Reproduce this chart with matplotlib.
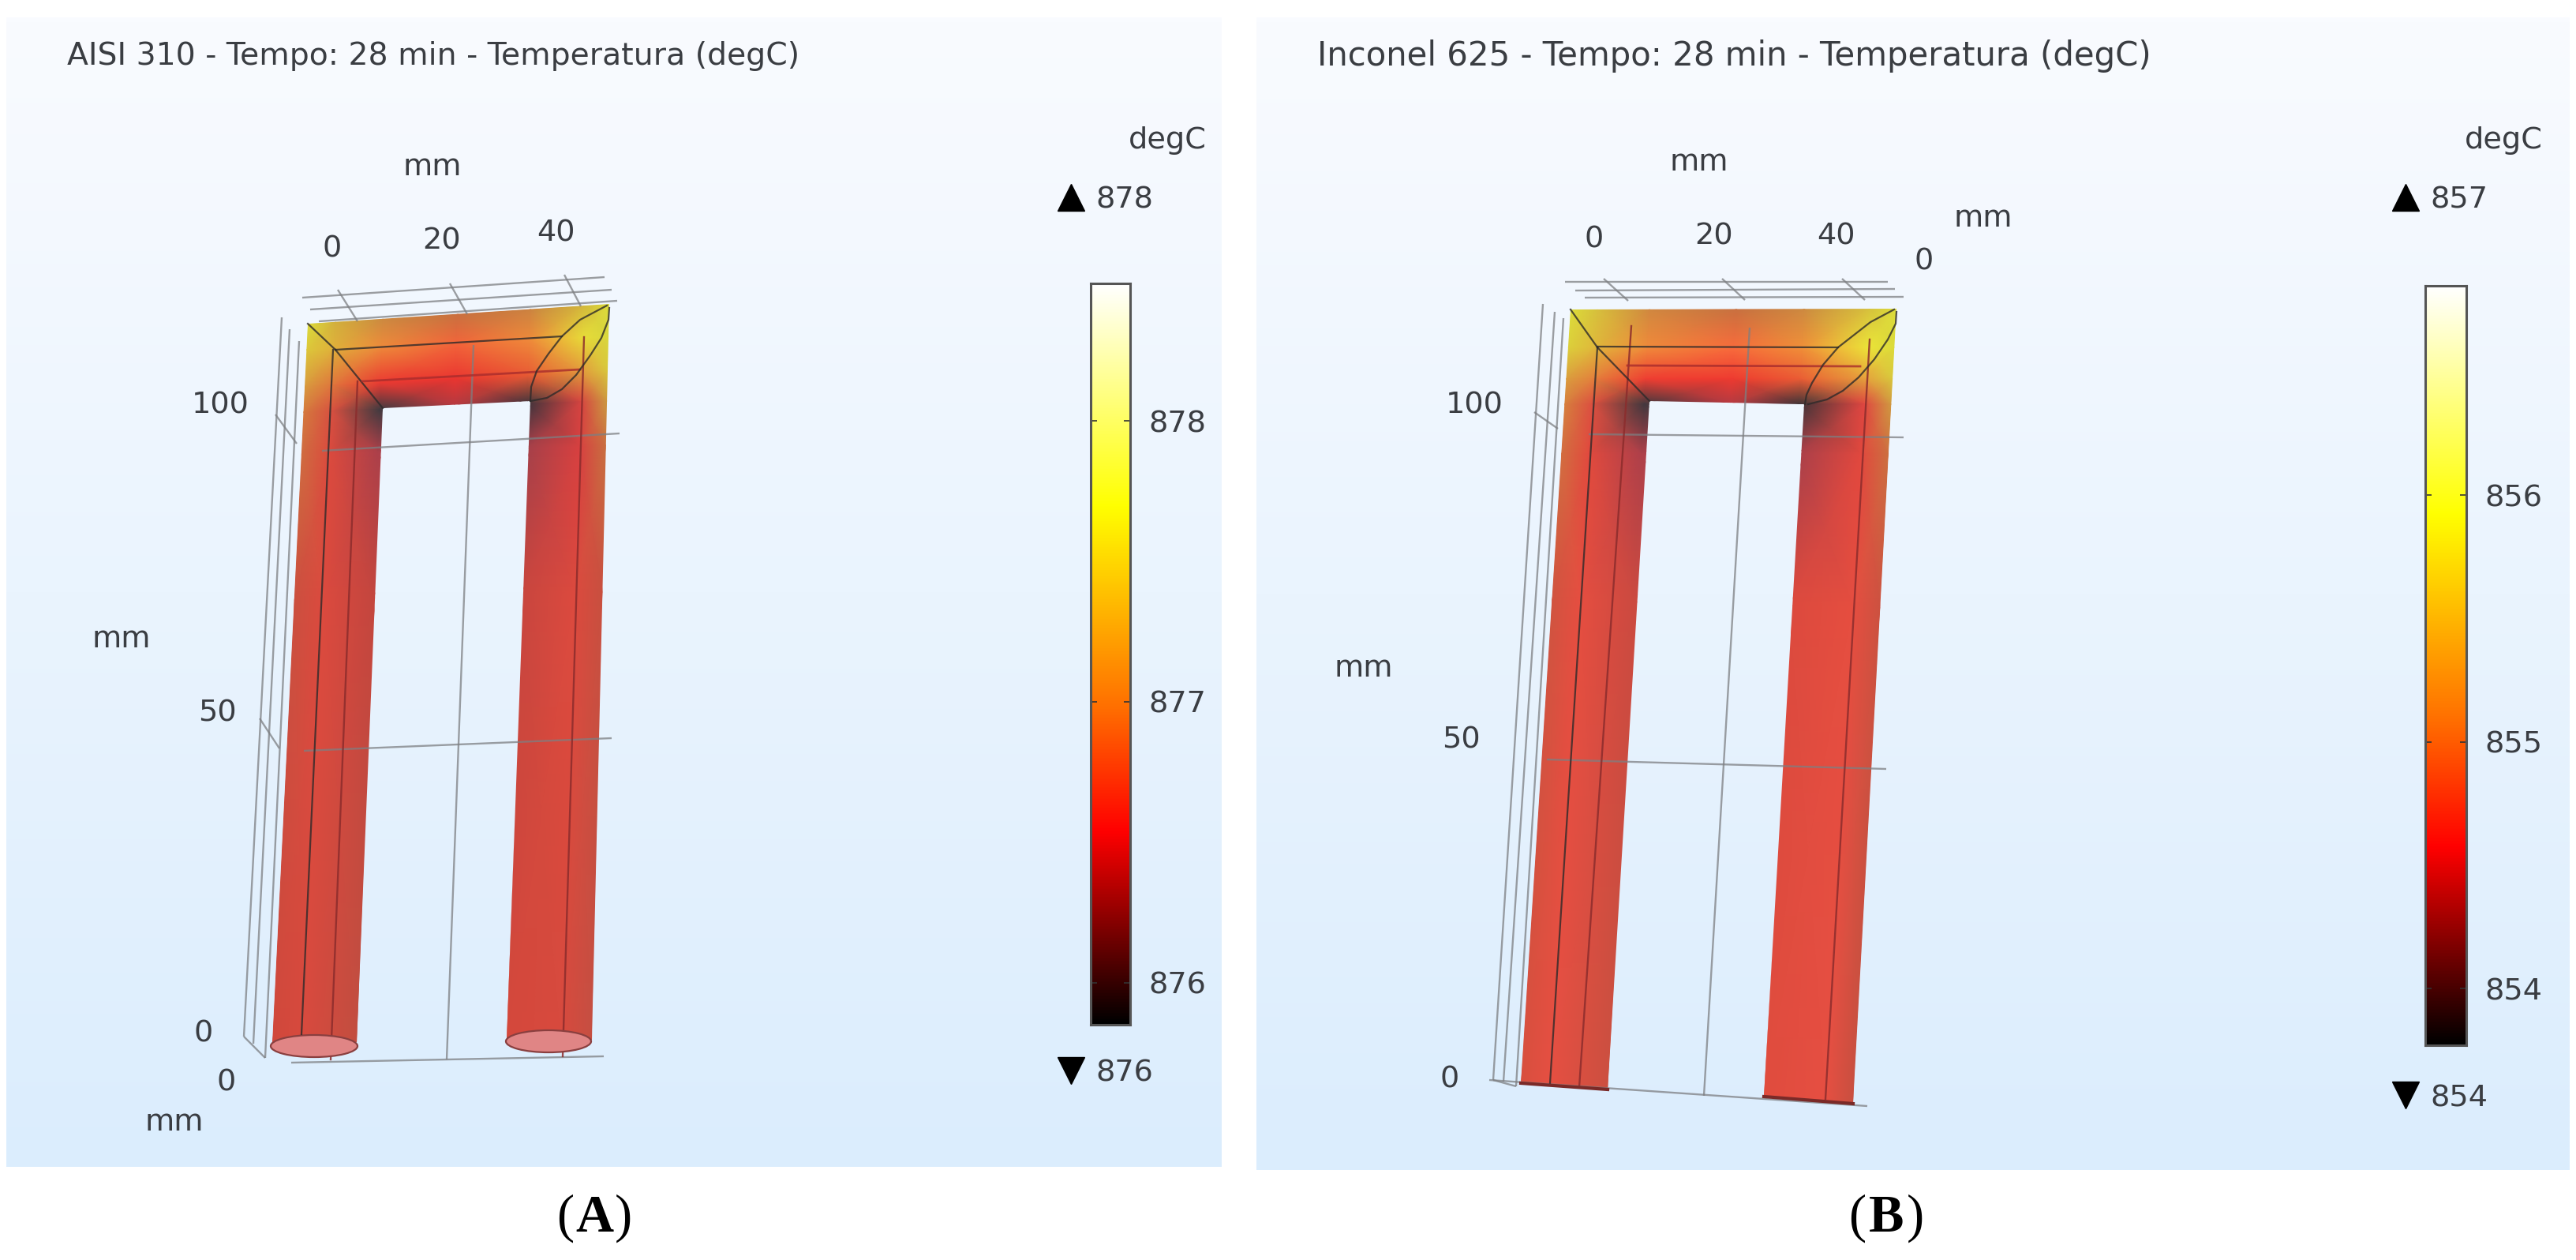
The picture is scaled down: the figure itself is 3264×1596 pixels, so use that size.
import numpy as np
import matplotlib
matplotlib.use('Agg')
import matplotlib.pyplot as plt
from matplotlib.colors import LinearSegmentedColormap, to_rgb
from matplotlib.patches import Ellipse, Polygon

W, H = 3264, 1596
TEXT_COLOR = '#3a3d42'
GRID_COLOR = '#7d7f82'
EDGE_COLOR = '#2d2a2a'
LEG_LINE_COLOR = '#8c2c2c'
TEXT_DY = 4

# colour table
THERMAL_NODES = [0.0, 0.26, 0.43, 0.70, 1.0]
THERMAL_COLORS = ['#000000', '#ff0000', '#ff7000', '#ffff00', '#ffffff']

TITLE_A = 'AISI 310 - Tempo: 28 min - Temperatura (degC)'
TITLE_B = 'Inconel 625 - Tempo: 28 min - Temperatura (degC)'

TICKS_A = [876, 877, 878]
TICKS_B = [854, 855, 856]
RANGE_A = (875.85, 878.49)
RANGE_B = (853.77, 856.85)
MAX_A, MIN_A = 878, 876
MAX_B, MIN_B = 857, 854

# panel boxes, pixels
BOX_A = (8, 1548, 22, 1478)
BOX_B = (1592, 3256, 22, 1482)
BAR_A = (1382, 1432, 359, 1298)
BAR_B = (3073, 3125, 362, 1324)

# frame surface: column x at top and bottom of the frame, row y at left and right end
A_COL_TOP = [390, 425, 485, 580, 672, 740, 772]
A_COL_BOT = [345, 385, 452, 545, 642, 710, 750]
A_ROW_LEFT = [410, 443, 490, 522, 575, 760, 1325]
A_ROW_RIGHT = [385, 426, 470, 508, 565, 750, 1317]
A_SURFACE = [
    ['#dcdc3a', '#d2b03c', '#cc8a40', '#c8703f', '#cb8340', '#d2b83c', '#dcdc3a'],
    ['#dcc83a', '#e0b03a', '#ee8a3a', '#f2653a', '#ef8a3a', '#e8dc38', '#d8d83c'],
    ['#d89a3e', '#e0753c', '#ea3a32', '#ea3530', '#e85a34', '#e2993c', '#d8c83c'],
    ['#d47a3e', '#d85040', '#403a40', '#b23a42', '#3e343c', '#d64440', '#cc9a40'],
    ['#cf6c40', '#dc4a3e', '#ac404a', '#ac404a', '#a4404a', '#d84040', '#c87040'],
    ['#cb5040', '#dc4a3e', '#c4463e', '#c4463e', '#c8463e', '#dc4a3e', '#c85040'],
    ['#d0483c', '#d84a3e', '#c24e40', '#c24e40', '#d4483c', '#d84a3e', '#c54f42'],
]
A_OUTLINE_X = [390, 772, 750, 642, 672, 485, 452, 345]
A_OUTLINE_Y = [410, 385, 1317, 1317, 508, 517, 1320, 1320]

B_COL_TOP = [1990, 2024, 2090, 2200, 2286, 2369, 2403]
B_COL_BOT = [1927, 1964, 2037, 2140, 2235, 2313, 2348]
B_ROW_LEFT = [392, 440, 480, 512, 575, 760, 1372]
B_ROW_RIGHT = [391, 440, 480, 512, 575, 770, 1398]
B_SURFACE = [
    ['#dcdc3a', '#d6c03c', '#d0883f', '#c8703f', '#cc8a40', '#d6c23c', '#dcdc3a'],
    ['#dcd03a', '#e0b83a', '#f08a3a', '#f86c3c', '#f09038', '#ece438', '#dcdc3a'],
    ['#da9e3e', '#e4803c', '#ee3e32', '#ee3a30', '#ea5c34', '#e6a03c', '#d8c83c'],
    ['#d6803e', '#dc5040', '#42383e', '#b43a42', '#3e3438', '#e04640', '#d09a40'],
    ['#d26e40', '#e24a3e', '#ae404a', '#ae404a', '#a8404a', '#e2483e', '#cc7040'],
    ['#d05440', '#e64e40', '#cc4a40', '#cc4a40', '#dc4a3e', '#e64e40', '#cc5240'],
    ['#d8503f', '#e64f42', '#cc5040', '#cc5040', '#e04c3e', '#e64f42', '#c85040'],
]
B_OUTLINE_X = [1990, 2403, 2348, 2235, 2286, 2090, 2037, 1927]
B_OUTLINE_Y = [392, 391, 1398, 1389, 512, 508, 1380, 1372]

# axis box lines: (x0, y0, x1, y1)
A_GRID = [
    (383, 377, 766, 351), (393, 392, 775, 367), (404, 407, 782, 381),
    (428, 367, 453, 407), (570, 359, 592, 398), (715, 348, 736, 388),
    (357, 402, 309, 1313), (367, 417, 321, 1322), (379, 432, 336, 1340),
    (309, 1313, 336, 1340), (349, 525, 376, 562), (329, 910, 354, 948),
    (408, 571, 785, 549), (385, 951, 775, 935), (369, 1346, 765, 1338),
    (600, 437, 566, 1342),
]
A_LEG_LINES = [(740, 427, 713, 1338), (453, 483, 419, 1342)]
A_EDGES = [
    (390, 410, 425, 443), (425, 443, 485, 517), (425, 443, 712, 426),
    (422, 443, 382, 1310),
]
A_RIM = (459, 483, 735, 468)
A_CURVE_OUT_X = [772, 771, 762, 748, 730, 712, 693, 672]
A_CURVE_OUT_Y = [390, 405, 428, 450, 475, 493, 504, 508]
A_CURVE_IN_X = [769, 735, 712, 695, 680, 673, 672]
A_CURVE_IN_Y = [387, 405, 426, 448, 470, 490, 508]
A_CAPS = [(398, 1325, 110, 28), (695, 1319, 108, 28)]

B_GRID = [
    (1983, 357, 2392, 357), (1996, 368, 2401, 366), (2008, 377, 2412, 376),
    (2032, 353, 2063, 381), (2182, 353, 2211, 380), (2334, 353, 2363, 380),
    (1955, 385, 1892, 1368), (1970, 395, 1905, 1370), (1981, 403, 1921, 1376),
    (1892, 1368, 1921, 1376), (1944, 522, 1974, 543),
    (2013, 550, 2412, 554), (1960, 962, 2390, 974), (1887, 1368, 2366, 1401),
    (2217, 415, 2159, 1388),
]
B_LEG_LINES = [(2369, 430, 2313, 1392), (2067, 413, 2001, 1377)]
B_EDGES = [
    (1990, 392, 2024, 440), (2024, 440, 2090, 508), (2024, 439, 2329, 440),
    (2024, 440, 1964, 1372),
]
B_RIM = (2062, 463, 2357, 464)
B_CURVE_OUT_X = [2403, 2402, 2392, 2375, 2355, 2335, 2315, 2291]
B_CURVE_OUT_Y = [395, 410, 430, 455, 478, 495, 506, 512]
B_CURVE_IN_X = [2400, 2370, 2329, 2310, 2296, 2289, 2287]
B_CURVE_IN_Y = [392, 408, 440, 462, 485, 500, 512]
B_FOOT = [(1927, 1372, 2037, 1380), (2235, 1389, 2348, 1398)]

# tick labels: (text, x, y)
A_LABELS = [
    ('mm', 548, 208), ('0', 421, 312), ('20', 560, 302), ('40', 704, 291),
    ('100', 279, 510), ('50', 275, 899), ('0', 258, 1305), ('mm', 154, 806),
    ('0', 287, 1368), ('mm', 221, 1418),
]
B_LABELS = [
    ('mm', 2153, 202), ('0', 2020, 300), ('20', 2172, 296), ('40', 2326, 296),
    ('mm', 2513, 273), ('0', 2438, 327), ('100', 1868, 510), ('50', 1851, 933),
    ('0', 1837, 1364), ('mm', 1728, 843),
]

thermal = LinearSegmentedColormap.from_list('thermal', list(zip(THERMAL_NODES, THERMAL_COLORS)))
bg_cmap = LinearSegmentedColormap.from_list('bg', ['#f9fbff', '#dbedfd'])

plt.rcParams['font.family'] = ['DejaVu Sans']
fig = plt.figure(figsize=(W / 100, H / 100), dpi=100, facecolor='white')
ax = fig.add_axes([0, 0, 1, 1])


def draw_surface(col_top, col_bot, row_left, row_right, surface, outline_x, outline_y):
    col_top, col_bot = np.array(col_top, float), np.array(col_bot, float)
    row_left, row_right = np.array(row_left, float), np.array(row_right, float)
    t = (row_left - row_left[0]) / (row_left[-1] - row_left[0])
    xs = col_top + np.outer(t, col_bot - col_top)
    s = (xs - xs[:, [0]]) / (xs[:, [-1]] - xs[:, [0]])
    ys = row_left[:, None] + (row_right - row_left)[:, None] * s
    rgb = np.array([[to_rgb(c) for c in row] for row in surface])
    mesh = ax.pcolormesh(xs, ys, rgb, shading='gouraud', zorder=2)
    clip = Polygon(np.column_stack([outline_x, outline_y]), closed=True, transform=ax.transData)
    mesh.set_clip_path(clip)


def draw_panel(box, bar, title, title_size, labels, grid, leg_lines, edges, rim, curves,
               ticks, bar_range, top, bottom):
    x0, x1, y0, y1 = box
    ax.imshow(np.linspace(0, 1, 256)[:, None], cmap=bg_cmap, extent=(x0, x1, y1, y0),
              aspect='auto', zorder=0)
    ax.text(x0 + 77, 69 + TEXT_DY / 2, title, fontsize=title_size, color=TEXT_COLOR, va='center', ha='left')
    for text, x, y in labels:
        ax.text(x, y + TEXT_DY, text, fontsize=27.5, color=TEXT_COLOR, ha='center', va='center')
    for xa, ya, xb, yb in grid:
        ax.plot([xa, xb], [ya, yb], color=GRID_COLOR, lw=1.7, alpha=0.75, zorder=3,
                solid_capstyle='butt')
    for xa, ya, xb, yb in leg_lines:
        ax.plot([xa, xb], [ya, yb], color=LEG_LINE_COLOR, lw=1.7, alpha=0.85, zorder=3)
    for xa, ya, xb, yb in edges:
        ax.plot([xa, xb], [ya, yb], color=EDGE_COLOR, lw=1.6, alpha=0.8, zorder=4)
    ax.plot([rim[0], rim[2]], [rim[1], rim[3]], color='#a82c2c', lw=2, alpha=0.8, zorder=4)
    for cx, cy in curves:
        ax.plot(cx, cy, color=EDGE_COLOR, lw=1.6, alpha=0.8, zorder=4)

    # legend bar gets its own axes so the ticks sit on a real scale
    bx0, bx1, by0, by1 = bar
    cax = fig.add_axes([bx0 / W, 1 - by1 / H, (bx1 - bx0) / W, (by1 - by0) / H])
    cax.imshow(np.linspace(0, 1, 512)[:, None], cmap=thermal, origin='lower', aspect='auto',
               extent=(0, 1, bar_range[0], bar_range[1]))
    cax.set_xticks([])
    cax.set_yticks(ticks)
    cax.yaxis.tick_right()
    cax.tick_params(axis='y', direction='in', length=6, width=1.2, color='#333333', left=True,
                    right=True, labelsize=27.5, labelcolor=TEXT_COLOR, pad=17)
    for name, spine in cax.spines.items():
        spine.set_color('#555555')
        spine.set_linewidth(2.2)

    ax.text(bx1 + 97, 174 + TEXT_DY, 'degC', fontsize=27.5, color=TEXT_COLOR, ha='right', va='center')
    ax.plot([bx0 - 25], [250], marker='^', ms=25, color='black', zorder=5)
    ax.text(bx0 + 6, 250 + TEXT_DY, str(top), fontsize=27.5, color=TEXT_COLOR, ha='left', va='center')
    low_y = by1 + 58 if by1 < 1310 else by1 + 63
    ax.plot([bx0 - 25], [low_y], marker='v', ms=25, color='black', zorder=5)
    ax.text(bx0 + 6, low_y + TEXT_DY, str(bottom), fontsize=27.5, color=TEXT_COLOR, ha='left', va='center')


def panel_letter(x, y, letter):
    serif = ['Liberation Serif']
    ax.text(x - 26, y, '(', fontsize=48, family=serif, ha='right', va='center', color='black')
    ax.text(x, y, letter, fontsize=48, family=serif, weight='bold', ha='center', va='center', color='black')
    ax.text(x + 26, y, ')', fontsize=48, family=serif, ha='left', va='center', color='black')


draw_surface(A_COL_TOP, A_COL_BOT, A_ROW_LEFT, A_ROW_RIGHT, A_SURFACE, A_OUTLINE_X, A_OUTLINE_Y)
draw_surface(B_COL_TOP, B_COL_BOT, B_ROW_LEFT, B_ROW_RIGHT, B_SURFACE, B_OUTLINE_X, B_OUTLINE_Y)
draw_panel(BOX_A, BAR_A, TITLE_A, 28.4, A_LABELS, A_GRID, A_LEG_LINES, A_EDGES, A_RIM,
           [(A_CURVE_OUT_X, A_CURVE_OUT_Y), (A_CURVE_IN_X, A_CURVE_IN_Y)],
           TICKS_A, RANGE_A, MAX_A, MIN_A)
draw_panel(BOX_B, BAR_B, TITLE_B, 30.2, B_LABELS, B_GRID, B_LEG_LINES, B_EDGES, B_RIM,
           [(B_CURVE_OUT_X, B_CURVE_OUT_Y), (B_CURVE_IN_X, B_CURVE_IN_Y)],
           TICKS_B, RANGE_B, MAX_B, MIN_B)

for cx, cy, cw, ch in A_CAPS:
    ax.add_patch(Ellipse((cx, cy), cw, ch, facecolor='#e08585', edgecolor='#8a3f3f', lw=1.6, zorder=3))
for xa, ya, xb, yb in B_FOOT:
    ax.plot([xa, xb], [ya, yb], color='#7a2a28', lw=3, zorder=4)

panel_letter(753, 1543, 'A')
panel_letter(2390, 1543, 'B')

ax.set_xlim(0, W)
ax.set_ylim(H, 0)
ax.axis('off')

fig.savefig('out.png', dpi=100, facecolor='white')
